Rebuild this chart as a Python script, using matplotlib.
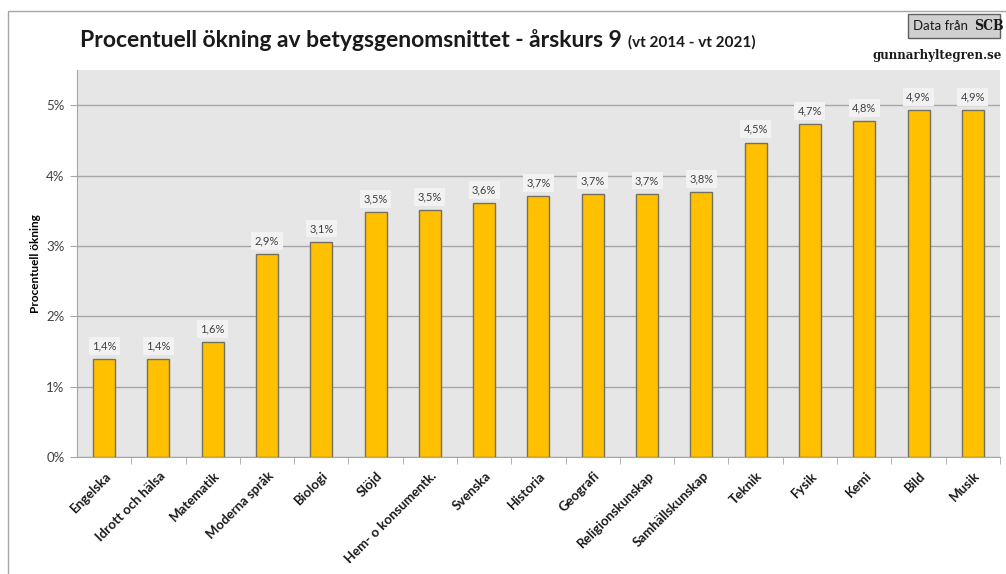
import matplotlib.pyplot as plt
from matplotlib.patches import Rectangle
from matplotlib.ticker import FuncFormatter, FixedLocator
from matplotlib.transforms import ScaledTranslation

# data
amnen = ['Engelska', 'Idrott och hälsa', 'Matematik', 'Moderna språk', 'Biologi',
         'Slöjd', 'Hem- o konsumentk.', 'Svenska', 'Historia', 'Geografi',
         'Religionskunskap', 'Samhällskunskap', 'Teknik', 'Fysik', 'Kemi', 'Bild', 'Musik']
okning = [1.39, 1.39, 1.63, 2.88, 3.06, 3.48, 3.51, 3.61, 3.71, 3.74,
          3.74, 3.76, 4.47, 4.73, 4.77, 4.93, 4.93]
y_ticks = [0, 1, 2, 3, 4, 5]

plt.rcParams['font.family'] = ['Lato', 'DejaVu Sans']

fig = plt.figure(figsize=(10.06, 5.74), dpi=100)
ax = fig.add_axes([0.0765, 0.2038, 0.9175, 0.6742])
ax.set_facecolor('#e6e6e6')

x = list(range(len(amnen)))
ax.bar(x, okning, width=0.405, color='#ffc000', edgecolor='#76705f', linewidth=1.0, zorder=3)

for xi, v in zip(x, okning):
    ax.text(xi, v + 0.11, f'{v:.1f}%'.replace('.', ','), ha='center', va='bottom',
            fontsize=8, color='#404040', zorder=4,
            bbox=dict(boxstyle='square,pad=0.3', facecolor='#f2f2f2', edgecolor='none'))

ax.set_xlim(-0.5, len(amnen) - 0.5)
ax.set_ylim(0, 5.5)
ax.set_yticks(y_ticks)
ax.yaxis.set_major_formatter(FuncFormatter(lambda v, p: f'{v:.0f}%'))
ax.grid(axis='y', color='#a6a6a6', linewidth=1.0, zorder=1)
ax.set_axisbelow(True)

ax.set_xticks(x)
ax.set_xticklabels(amnen, rotation=45, ha='right', va='center', rotation_mode='anchor',
                   fontsize=9.5, fontweight='bold', color='#1a1a1a')
ax.tick_params(axis='x', length=0, pad=12)
# flytta etiketterna lite åt höger som i originalet
for lab in ax.get_xticklabels():
    lab.set_transform(lab.get_transform() + ScaledTranslation(5 / 100, 0, fig.dpi_scale_trans))
ax.xaxis.set_minor_locator(FixedLocator([i + 0.5 for i in range(len(amnen))]))
ax.tick_params(axis='x', which='minor', length=5, color='#a6a6a6')
ax.tick_params(axis='y', length=5, color='#a6a6a6', labelsize=9.5, labelcolor='#404040', pad=4)

for s in ['top', 'right']:
    ax.spines[s].set_visible(False)
ax.spines['left'].set_color('#a6a6a6')
ax.spines['bottom'].set_color('#a6a6a6')

ax.set_ylabel('Procentuell ökning', fontsize=8.5, fontweight='bold', labelpad=4)

# titel
fig.text(0.08, 0.93, 'Procentuell ökning av betygsgenomsnittet - årskurs 9',
         fontsize=16.5, fontweight='bold', color='#1a1a1a', va='center')
fig.text(0.624, 0.926, '(vt 2014 - vt 2021)', fontsize=11, fontweight='bold',
         color='#1a1a1a', va='center')

# ram runt diagrammet
fig.add_artist(Rectangle((8 / 1006, -0.1), 1.2, 1.1 - 11 / 574, transform=fig.transFigure,
                         fill=False, edgecolor='#a6a6a6', linewidth=1.0))

# källa
fig.add_artist(Rectangle((908 / 1006, 1 - 38 / 574), 92 / 1006, 24 / 574,
                         transform=fig.transFigure,
                         facecolor='#d0d0d0', edgecolor='#606060', linewidth=1.0))
fig.text(913 / 1006, 1 - 26 / 574, 'Data från', fontsize=9.5, color='#1a1a1a', va='center')
fig.text(974 / 1006, 1 - 26 / 574, 'SCB', fontsize=10, fontweight='bold', family='DejaVu Serif',
         fontstretch='condensed', color='#1a1a1a', va='center')
fig.text(1002 / 1006, 1 - 55 / 574, 'gunnarhyltegren.se', fontsize=8.5, fontweight='bold',
         family='DejaVu Serif', color='#1a1a1a', va='center', ha='right')

fig.savefig('out.png', dpi=100)
